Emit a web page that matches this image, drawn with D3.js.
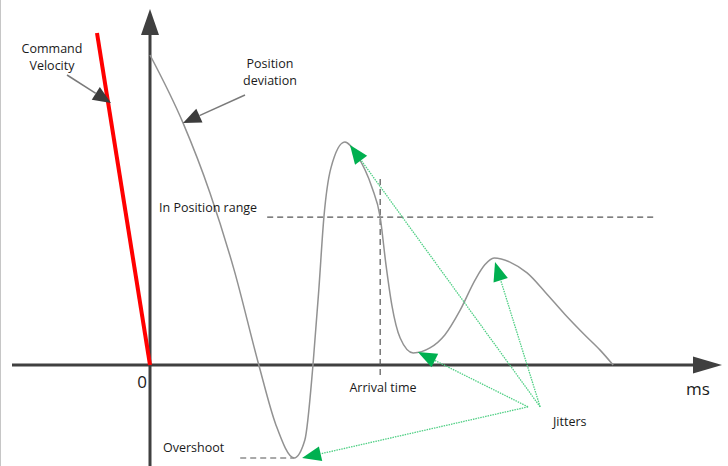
<!DOCTYPE html>
<html>
<head>
<meta charset="utf-8">
<script src="https://cdn.jsdelivr.net/npm/d3@7"></script>
<style>
  html, body { margin: 0; padding: 0; background: #fff; }
  text { font-family: "Open Sans", sans-serif; fill: #1a1a1a; }
</style>
</head>
<body>
<div id="chart"></div>
<script>
// Position deviation curve (time in ms, deviation in arbitrary units)
const timeMs = [0, 7.1, 12.9, 18.1, 23.4, 27.1, 31.0, 33.3, 35.05, 36.3, 37.4, 38.9, 41.9, 44.5, 47.7, 49.5, 50.75, 52.0, 53.8, 56.6, 60.2, 63.4, 66.7, 69.9, 72.0, 74.0, 77.4, 81.1, 85.0, 89.2, 93.5, 96.8, 99.6];
const deviation = [100, 78.1, 55.5, 30.6, 0, -19.4, -30, -24.2, 0, 24.2, 47.7, 63.5, 71.9, 67.7, 57.4, 47.7, 32.3, 19.4, 8.7, 3.9, 5.5, 9.7, 17.7, 27.4, 32.3, 34.5, 33.2, 29.7, 23.5, 16.4, 9.7, 4.8, 0];

// Command velocity ramp
const commandT = [-11.4, 0];
const commandV = [107.1, 0];

// Reference levels
const inPositionLevel = 47.7;
const inPositionSpan = [25.2, 108.6];
const arrivalTime = 49.5;
const arrivalSpan = [60, -3.2];
const overshootLevel = -30;
const overshootSpan = [19.4, 31.0];

// Jitter pointers: from label to feature
const jitterFromT = [83.9, 83.9, 81.3, 81.3];
const jitterFromV = [-13.5, -13.5, -13.5, -13.5];
const jitterToT = [43.0, 74.2, 57.6, 32.7];
const jitterToV = [71.0, 33.2, 4.2, -30];

document.addEventListener('DOMContentLoaded', function() {
    const width = 728;
    const height = 466;

    // Scales
    const xScale = d3.scaleLinear().domain([0, 100]).range([150, 615]);
    const yScale = d3.scaleLinear().domain([-30, 100]).range([458, 55]);

    const svg = d3.select("#chart").append("svg")
        .attr("width", width)
        .attr("height", height);

    // frame edge on the left
    svg.append("line")
        .attr("x1", 0.5).attr("x2", 0.5)
        .attr("y1", 0).attr("y2", height)
        .attr("stroke", "#c6c6c6").attr("stroke-width", 1);

    function arrowHead(g, x1, y1, x2, y2, len, half, fill) {
        const dx = x2 - x1, dy = y2 - y1;
        const d = Math.sqrt(dx * dx + dy * dy);
        const ux = dx / d, uy = dy / d;
        const bx = x2 - ux * len, by = y2 - uy * len;
        g.append("polygon")
            .attr("points", [
                [x2, y2],
                [bx - uy * half, by + ux * half],
                [bx + uy * half, by - ux * half]
            ].map(p => p.join(",")).join(" "))
            .attr("fill", fill);
        return [bx, by];
    }

    // Axes (no ticks, arrows only)
    const axisColor = "#404040";
    const ax = svg.append("g");
    ax.append("line")
        .attr("x1", 12).attr("x2", 697)
        .attr("y1", yScale(0)).attr("y2", yScale(0))
        .attr("stroke", axisColor).attr("stroke-width", 3);
    arrowHead(ax, 12, yScale(0), 722, yScale(0), 29, 8.5, axisColor);
    ax.append("line")
        .attr("x1", xScale(0)).attr("x2", xScale(0))
        .attr("y1", height).attr("y2", 32)
        .attr("stroke", axisColor).attr("stroke-width", 3);
    arrowHead(ax, xScale(0), height, xScale(0), 9, 26, 9, axisColor);

    // Dashed reference lines
    const dash = svg.append("g")
        .attr("stroke", "#555")
        .attr("stroke-width", 1.2)
        .attr("stroke-dasharray", "6,4")
        .attr("fill", "none");
    dash.append("line")
        .attr("x1", xScale(inPositionSpan[0])).attr("x2", xScale(inPositionSpan[1]))
        .attr("y1", yScale(inPositionLevel)).attr("y2", yScale(inPositionLevel));
    dash.append("line")
        .attr("x1", xScale(arrivalTime)).attr("x2", xScale(arrivalTime))
        .attr("y1", yScale(arrivalSpan[0])).attr("y2", yScale(arrivalSpan[1]));
    dash.append("line")
        .attr("x1", xScale(overshootSpan[0])).attr("x2", xScale(overshootSpan[1]))
        .attr("y1", yScale(overshootLevel)).attr("y2", yScale(overshootLevel));

    // Position deviation curve
    const line = d3.line()
        .x(d => xScale(d[0]))
        .y(d => yScale(d[1]))
        .curve(d3.curveMonotoneX);
    svg.append("path")
        .datum(timeMs.map((t, i) => [t, deviation[i]]))
        .attr("d", line)
        .attr("fill", "none")
        .attr("stroke", "#929292")
        .attr("stroke-width", 1.5);

    // Command velocity
    svg.append("path")
        .datum(commandT.map((t, i) => [t, commandV[i]]))
        .attr("d", d3.line().x(d => xScale(d[0])).y(d => yScale(d[1])))
        .attr("stroke", "#ff0000")
        .attr("stroke-width", 4)
        .attr("fill", "none");

    // Jitter pointers
    const jg = svg.append("g");
    jitterToT.forEach((t, i) => {
        const x1 = xScale(jitterFromT[i]), y1 = yScale(jitterFromV[i]);
        const x2 = xScale(t), y2 = yScale(jitterToV[i]);
        const base = arrowHead(jg, x1, y1, x2, y2, 19, 7.5, "#00b050");
        jg.append("line")
            .attr("x1", x1).attr("y1", y1)
            .attr("x2", base[0]).attr("y2", base[1])
            .attr("stroke", "#4fcf84")
            .attr("stroke-width", 1.3)
            .attr("stroke-dasharray", "1.5,1");
    });

    // Label pointers (dark)
    function pointer(x1, y1, x2, y2) {
        const base = arrowHead(svg, x1, y1, x2, y2, 18, 7.5, "#3c3c3c");
        svg.append("line")
            .attr("x1", x1).attr("y1", y1)
            .attr("x2", base[0]).attr("y2", base[1])
            .attr("stroke", "#7a7a7a").attr("stroke-width", 1.5);
    }
    pointer(67, 75, 111, 103);
    pointer(245, 95, 183, 123);

    // Labels
    const labels = [
        { text: "Command", x: 52, y: 53, anchor: "middle" },
        { text: "Velocity", x: 52, y: 70, anchor: "middle" },
        { text: "Position", x: 270, y: 68, anchor: "middle" },
        { text: "deviation", x: 270, y: 85, anchor: "middle" },
        { text: "In Position range", x: 159, y: 212, anchor: "start" },
        { text: "Arrival time", x: 383, y: 392, anchor: "middle" },
        { text: "Overshoot", x: 163, y: 452, anchor: "start" },
        { text: "Jitters", x: 553, y: 426, anchor: "start" }
    ];
    svg.selectAll(".annotation")
        .data(labels)
        .enter().append("text")
        .attr("class", "annotation")
        .attr("x", d => d.x)
        .attr("y", d => d.y)
        .attr("text-anchor", d => d.anchor)
        .attr("font-size", 12.5)
        .text(d => d.text);

    svg.append("text")
        .attr("x", 142).attr("y", 388)
        .attr("text-anchor", "middle")
        .attr("font-size", 17)
        .text("0");
    svg.append("text")
        .attr("x", 698).attr("y", 395)
        .attr("text-anchor", "middle")
        .attr("font-size", 17)
        .text("ms");
});
</script>
</body>
</html>
